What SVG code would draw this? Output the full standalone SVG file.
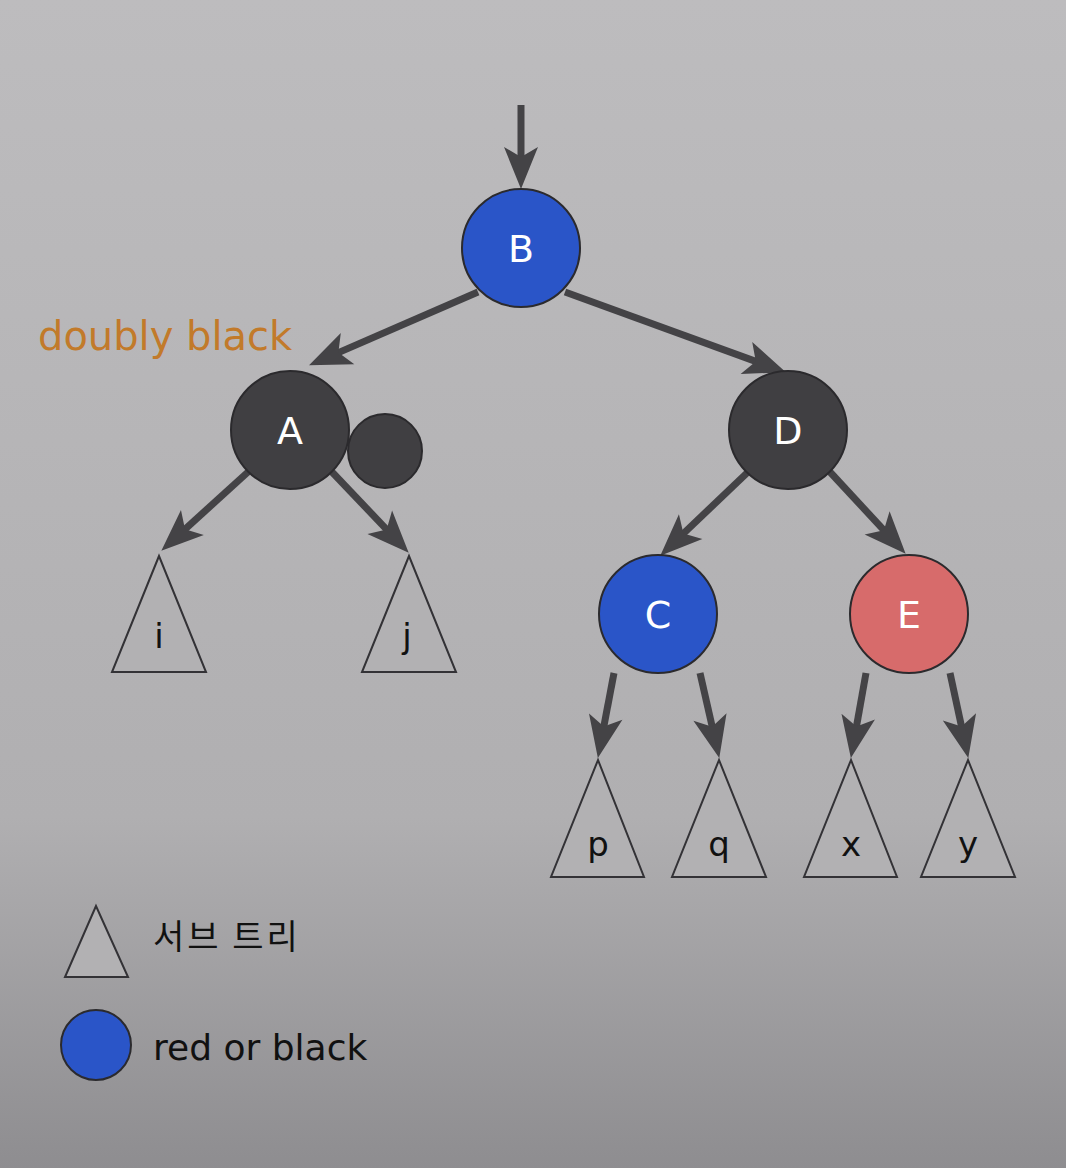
<svg xmlns="http://www.w3.org/2000/svg" width="1066" height="1168" viewBox="0 0 1066 1168">
  <defs>
    <linearGradient id="bg" x1="0" y1="0" x2="0" y2="1">
      <stop offset="0" stop-color="#bdbcbe"/>
      <stop offset="0.7" stop-color="#b0afb1"/>
      <stop offset="1" stop-color="#8e8d90"/>
    </linearGradient>
    <marker id="arr" markerUnits="userSpaceOnUse" markerWidth="50" markerHeight="40" viewBox="-20 -20 50 40" refX="0" refY="0" orient="auto">
      <path d="M27,0 L-15,-17 L-5,0 L-15,17 Z" fill="#444346"/>
    </marker>
  </defs>
  <style>
    .edge { stroke: #444346; stroke-width: 7; fill: none; marker-end: url(#arr); }
    .node { stroke: #2b2a2d; stroke-width: 2; }
    .blue { fill: #2a55c8; }
    .dark { fill: #403f42; }
    .red { fill: #d76b6b; }
    .nlabel { font-family: "DejaVu Sans", sans-serif; font-size: 38px; fill: #ffffff; text-anchor: middle; }
    .tri { fill: #b2b1b3; stroke: #333236; stroke-width: 2; }
    .tlabel { font-family: "DejaVu Sans", sans-serif; font-size: 34px; fill: #111111; text-anchor: middle; }
  </style>
  <rect x="0" y="0" width="1066" height="1168" fill="url(#bg)"/>

  <g id="connectors">
    <line class="edge" x1="521" y1="105" x2="521" y2="162"/>
    <line class="edge" x1="478" y1="292" x2="333.8" y2="354.6"/>
    <line class="edge" x1="565" y1="292" x2="760.5" y2="363.1"/>
    <line class="edge" x1="248" y1="472" x2="181.3" y2="532.6"/>
    <line class="edge" x1="332" y1="472" x2="390.1" y2="533.1"/>
    <line class="edge" x1="748" y1="472" x2="679.8" y2="537"/>
    <line class="edge" x1="830" y1="472" x2="887.3" y2="533.9"/>
    <line class="edge" x1="614" y1="673" x2="602.9" y2="731.4"/>
    <line class="edge" x1="700" y1="673" x2="713.3" y2="731.6"/>
    <line class="edge" x1="866" y1="673" x2="855.6" y2="731.4"/>
    <line class="edge" x1="950" y1="673" x2="962.6" y2="731.5"/>
  </g>

  <text id="doubly-black" x="38" y="350" font-family="DejaVu Sans, sans-serif" font-size="40" fill="#c27a2a">doubly black</text>

  <g id="node-B">
    <circle class="node blue" cx="521" cy="248" r="59"/>
    <text class="nlabel" x="521" y="262">B</text>
  </g>
  <g id="node-A">
    <circle class="node dark" cx="290" cy="430" r="59"/>
    <circle class="node dark" cx="385" cy="451" r="37"/>
    <text class="nlabel" x="290" y="444">A</text>
  </g>
  <g id="node-D">
    <circle class="node dark" cx="788" cy="430" r="59"/>
    <text class="nlabel" x="788" y="444">D</text>
  </g>
  <g id="node-C">
    <circle class="node blue" cx="658" cy="614" r="59"/>
    <text class="nlabel" x="658" y="628">C</text>
  </g>
  <g id="node-E">
    <circle class="node red" cx="909" cy="614" r="59"/>
    <text class="nlabel" x="909" y="628">E</text>
  </g>

  <g id="tree-i">
    <polygon class="tri" points="159,556 112,672 206,672"/>
    <text class="tlabel" x="159" y="648">i</text>
  </g>
  <g id="tree-j">
    <polygon class="tri" points="409,556 362,672 456,672"/>
    <text class="tlabel" x="407" y="648">j</text>
  </g>
  <g id="tree-p">
    <polygon class="tri" points="598,760 551,877 644,877"/>
    <text class="tlabel" x="598" y="856">p</text>
  </g>
  <g id="tree-q">
    <polygon class="tri" points="719,760 672,877 766,877"/>
    <text class="tlabel" x="719" y="856">q</text>
  </g>
  <g id="tree-x">
    <polygon class="tri" points="851,760 804,877 897,877"/>
    <text class="tlabel" x="851" y="856">x</text>
  </g>
  <g id="tree-y">
    <polygon class="tri" points="968,760 921,877 1015,877"/>
    <text class="tlabel" x="968" y="856">y</text>
  </g>

  <g id="legend-subtree">
    <polygon class="tri" points="96,906 65,977 128,977"/>
    <text x="153" y="949" font-family="Noto Sans CJK KR, sans-serif" font-size="34" letter-spacing="3" fill="#111111">서브 트리</text>
  </g>
  <g id="legend-node">
    <circle class="node blue" cx="96" cy="1045" r="35"/>
    <text x="153" y="1060" font-family="DejaVu Sans, sans-serif" font-size="36" fill="#111111">red or black</text>
  </g>
</svg>
